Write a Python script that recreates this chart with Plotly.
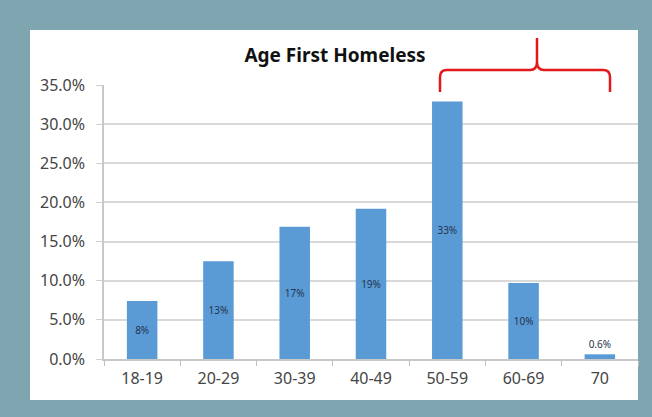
import plotly.graph_objects as go

categories = ["18-19", "20-29", "30-39", "40-49", "50-59", "60-69", "70"]
values = [7.4, 12.5, 16.9, 19.2, 32.9, 9.7, 0.6]
labels = ["8%", "13%", "17%", "19%", "33%", "10%", "0.6%"]
y_ticks = [0, 5, 10, 15, 20, 25, 30, 35]
y_tick_text = [f"{v:.1f}%" for v in y_ticks]

W, H = 652, 417
L, R, T, B = 104, 14, 85, 58
PW, PH = W - L - R, H - T - B


def px(xp):
    return (xp - L) / PW


def py(yp):
    return (H - B - yp) / PH


positions = ["inside"] * (len(values) - 1) + ["outside"]

fig = go.Figure(
    go.Bar(
        x=categories,
        y=values,
        text=labels,
        textposition=positions,
        insidetextanchor="middle",
        textfont=dict(family="Noto Sans", size=10, color="#1f3550"),
        marker=dict(color="#5b9bd5", line=dict(width=0)),
        width=0.4,
        cliponaxis=False,
    )
)

# white panel
fig.add_shape(
    type="rect", xref="paper", yref="paper",
    x0=px(30), x1=px(638), y0=py(400), y1=py(30),
    fillcolor="white", line=dict(width=0), layer="below",
)

# red curly bracket
pts = [
    ("M", 440, 92), ("L", 440, 77), ("Q", 440, 70, 447, 70), ("L", 530, 70),
    ("Q", 537, 70, 537, 62), ("L", 537, 38), ("M", 537, 62),
    ("Q", 537, 70, 544, 70), ("L", 603, 70), ("Q", 610, 70, 610, 77), ("L", 610, 92),
]
path = ""
for p in pts:
    cmd = p[0]
    coords = p[1:]
    s = []
    for i in range(0, len(coords), 2):
        s.append(f"{px(coords[i]):.5f},{py(coords[i+1]):.5f}")
    path += cmd + " " + " ".join(s) + " "
fig.add_shape(
    type="path", xref="paper", yref="paper", path=path.strip(),
    line=dict(color="#e0191b", width=2.5),
)

fig.update_layout(
    width=W, height=H,
    margin=dict(l=L, r=R, t=T, b=B),
    paper_bgcolor="#7fa5b0",
    plot_bgcolor="rgba(0,0,0,0)",
    showlegend=False,
    bargap=0.6,
    title=dict(
        text="<b>Age First Homeless</b>",
        x=px(335), xref="paper", xanchor="center",
        y=1 - 55 / H, yref="container", yanchor="middle",
        font=dict(family="Noto Sans", size=19, color="#111111"),
    ),
    font=dict(family="Noto Sans", color="#404040"),
)
fig.update_yaxes(
    range=[0, 35], tickmode="array", tickvals=y_ticks, ticktext=y_tick_text,
    showgrid=True, gridcolor="#d9d9d9", gridwidth=1.5,
    showline=True, linecolor="#c8c8c8", linewidth=1.5,
    ticks="outside", ticklen=6, tickcolor="#d0d0d0",
    tickfont=dict(size=16, color="#454545"), ticklabelstandoff=8,
    zeroline=False,
)
fig.update_xaxes(
    showgrid=False, showline=True, linecolor="#c8c8c8", linewidth=1.5,
    ticks="outside", tickson="boundaries", ticklen=5, tickcolor="#c0c0c0",
    tickfont=dict(size=16, color="#454545"), ticklabelstandoff=4,
)

fig.write_html("out.html")
